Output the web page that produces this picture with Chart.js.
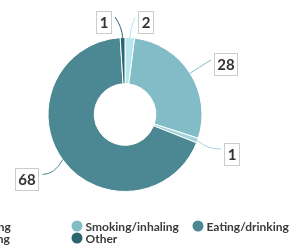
<!DOCTYPE html>
<html>
<head>
<meta charset="utf-8">
<script src="https://cdn.jsdelivr.net/npm/chart.js@4.4.1/dist/chart.umd.min.js"></script>
<style>
html, body { margin: 0; padding: 0; background: #fff; overflow: hidden; }
</style>
</head>
<body>
<canvas id="chart" width="291" height="246"></canvas>
<script>
'use strict';

const labels = ['Injecting', 'Smoking/inhaling', 'Snorting', 'Eating/drinking', 'Other'];
const values = [2, 28, 1, 68, 1];
const colors = ['#b3e6ef', '#82bcc7', '#a3d3dc', '#4b8893', '#2c6570'];
// legend is drawn row by row, three columns
const legendOrder = [0, 1, 3, 2, 4];

const FONT = 'Lato, "DejaVu Sans", sans-serif';

// value boxes outside the slices, with a soft connector
const outLabels = {
    id: 'outLabels',
    afterDatasetsDraw(chart) {
        const ctx = chart.ctx;
        const meta = chart.getDatasetMeta(0);
        ctx.save();
        ctx.font = 'bold 15px ' + FONT;
        ctx.textAlign = 'center';
        ctx.textBaseline = 'middle';
        meta.data.forEach((arc, i) => {
            const p = arc.getProps(['x', 'y', 'startAngle', 'endAngle', 'outerRadius'], true);
            const mid = (p.startAngle + p.endAngle) / 2;
            const dx = Math.cos(mid), dy = Math.sin(mid);
            const r = p.outerRadius;
            const x0 = p.x + r * dx, y0 = p.y + r * dy;
            let ax = p.x + (r + 25) * dx, ay = p.y + (r + 25) * dy;
            ay = Math.max(ay, 17);
            if (Math.abs(ax - p.x) < 10) ax = p.x + (dx >= 0 ? 10 : -10);
            // bend: leave the slice outward, then turn toward the box
            const cx = x0 + 10 * dx;
            const cy = Math.max(y0 + 10 * dy, ay);

            ctx.strokeStyle = colors[i];
            ctx.lineWidth = 1;
            ctx.beginPath();
            ctx.moveTo(x0, y0);
            ctx.quadraticCurveTo(cx, cy, ax, ay);
            ctx.stroke();

            const text = String(values[i]);
            const w = Math.round(ctx.measureText(text).width) + 7;
            const h = 23;
            const right = ax >= p.x;
            const bx = right ? Math.round(ax + 3) : Math.round(ax - 3 - w);
            const by = Math.round(ay + 5 - h / 2);
            ctx.fillStyle = '#fff';
            ctx.fillRect(bx, by, w, h);
            ctx.strokeStyle = '#cccccc';
            ctx.strokeRect(bx + 0.5, by + 0.5, w - 1, h - 1);
            ctx.fillStyle = '#333';
            ctx.fillText(text, bx + w / 2, by + h / 2 + 1);
        });
        ctx.restore();
    }
};

const gridLegend = {
    id: 'gridLegend',
    afterDraw(chart) {
        const ctx = chart.ctx;
        const area = chart.chartArea;
        const colW = 121;
        const cols = 3;
        const centerX = (area.left + area.right) / 2;
        const startX = centerX - cols * colW / 2 + 7;
        const top = chart.height - 20;
        ctx.save();
        ctx.font = 'bold 12px ' + FONT;
        ctx.textBaseline = 'middle';
        ctx.textAlign = 'left';
        legendOrder.forEach((idx, n) => {
            const col = n % cols;
            const row = Math.floor(n / cols);
            const x = startX + col * colW;
            const y = top + row * 12;
            ctx.fillStyle = colors[idx];
            ctx.beginPath();
            ctx.arc(x + 5.5, y, 5.5, 0, Math.PI * 2);
            ctx.fill();
            ctx.fillStyle = '#3a3a3a';
            ctx.fillText(labels[idx], x + 14, y + 1);
        });
        ctx.restore();
    }
};

new Chart(document.getElementById('chart'), {
    type: 'doughnut',
    data: {
        labels: labels,
        datasets: [{
            data: values,
            backgroundColor: colors,
            borderColor: '#fff',
            borderWidth: 1
        }]
    },
    options: {
        responsive: false,
        animation: false,
        cutout: '40%',
        layout: { padding: { top: 37, bottom: 54, left: 0, right: 41 } },
        plugins: {
            legend: { display: false },
            tooltip: { enabled: false }
        }
    },
    plugins: [outLabels, gridLegend]
});
</script>
</body>
</html>
